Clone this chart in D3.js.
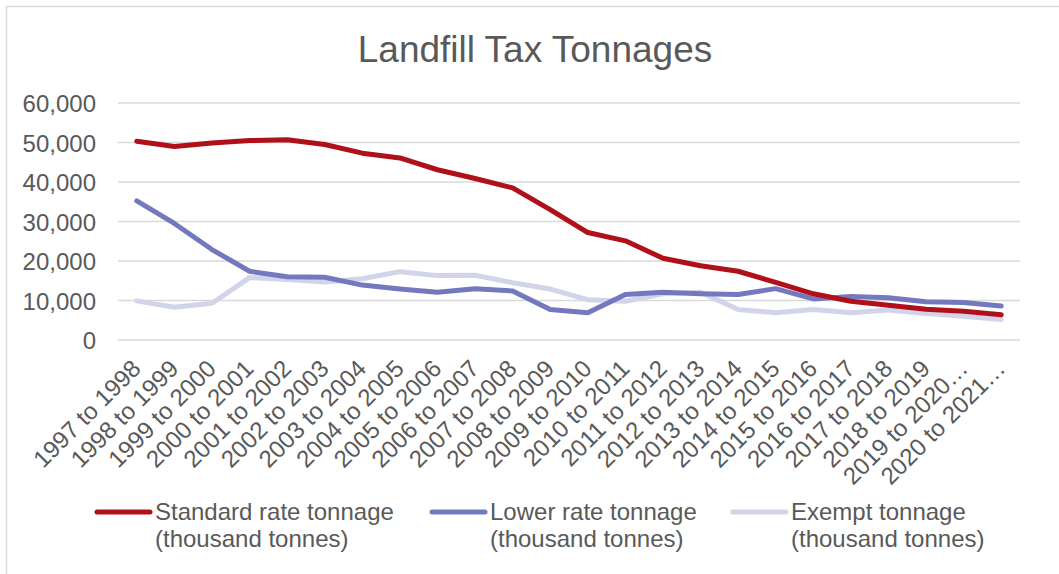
<!DOCTYPE html>
<html>
<head>
<meta charset="utf-8">
<script src="https://cdn.jsdelivr.net/npm/d3@7"></script>
<style>
  html, body { margin: 0; padding: 0; background: #fff; }
  svg { display: block; font-family: "Liberation Sans", Arial, sans-serif; }
</style>
</head>
<body>
<svg id="chart" width="1059" height="574"></svg>
<script>
const categories = ["1997 to 1998","1998 to 1999","1999 to 2000","2000 to 2001","2001 to 2002","2002 to 2003","2003 to 2004","2004 to 2005","2005 to 2006","2006 to 2007","2007 to 2008","2008 to 2009","2009 to 2010","2010 to 2011","2011 to 2012","2012 to 2013","2013 to 2014","2014 to 2015","2015 to 2016","2016 to 2017","2017 to 2018","2018 to 2019","2019 to 2020…","2020 to 2021…"];
const standardRate = [50300,49000,49900,50500,50700,49500,47300,46100,43100,40900,38500,33000,27200,25100,20700,18800,17400,14600,11700,9800,8800,7800,7300,6400];
const lowerRate = [35200,29500,22900,17400,16000,15900,13900,12900,12100,13000,12400,7700,6900,11500,12100,11700,11500,13000,10400,11000,10700,9700,9500,8600];
const exempt = [9900,8300,9300,15800,15300,14700,15500,17300,16300,16400,14500,12900,10200,9800,11700,12100,7700,6900,7700,6900,7600,6700,6000,5200];
const yTicks = [0,10000,20000,30000,40000,50000,60000];
const seriesNames = [["Standard rate tonnage","(thousand tonnes)"],["Lower rate tonnage","(thousand tonnes)"],["Exempt tonnage","(thousand tonnes)"]];
const seriesColors = ["#B01019","#7479BF","#D2D4EA"];

const svg = d3.select("#chart");
const textColor = "#595959";

// outer border
svg.append("rect").attr("x",6.5).attr("y",6.5).attr("width",1080).attr("height",600)
  .attr("fill","#fff").attr("stroke","#d9d9d9").attr("stroke-width",1.5);

// title
svg.append("text").attr("x",535).attr("y",62).attr("text-anchor","middle")
  .attr("font-size",37).attr("fill",textColor).text("Landfill Tax Tonnages");

const x = d3.scalePoint().domain(categories).range([118,1020]).padding(0.5);
const y = d3.scaleLinear().domain([0,60000]).range([340,103]);

// gridlines
svg.append("g").selectAll("line").data(yTicks).join("line")
  .attr("x1",118).attr("x2",1020)
  .attr("y1",d=>y(d)).attr("y2",d=>y(d))
  .attr("stroke","#d9d9d9").attr("stroke-width",1.5);

// y axis labels
const yAxis = d3.axisLeft(y).tickValues(yTicks).tickSize(0).tickPadding(0)
  .tickFormat(d3.format(",")); 
const yg = svg.append("g").attr("transform","translate(96,0)").call(yAxis);
yg.select(".domain").remove();
yg.selectAll("text").attr("font-size",24).attr("fill",textColor)
  .attr("font-family","Liberation Sans, Arial, sans-serif").attr("dy","0.36em");

// x axis labels
const xAxis = d3.axisBottom(x).tickSize(0).tickPadding(0);
const xg = svg.append("g").attr("transform","translate(0,340)").call(xAxis);
xg.select(".domain").remove();
xg.selectAll("text").attr("font-size",24).attr("fill",textColor)
  .attr("font-family","Liberation Sans, Arial, sans-serif")
  .attr("text-anchor","end")
  .attr("x",0).attr("y",0).attr("dy",0)
  .attr("transform","translate(5,30) rotate(-45)");

// lines
const allSeries = [standardRate, lowerRate, exempt];
const line = d3.line().x((d,i)=>x(categories[i])).y(d=>y(d));
[2,1,0].forEach(k=>{
  svg.append("path").datum(allSeries[k]).attr("d",line)
    .attr("fill","none").attr("stroke",seriesColors[k]).attr("stroke-width",5)
    .attr("stroke-linejoin","round").attr("stroke-linecap","round");
});

// legend
const legendX = [97,432,733];
seriesNames.forEach((nm,k)=>{
  const g = svg.append("g").attr("transform",`translate(${legendX[k]},0)`);
  g.append("line").attr("x1",0).attr("x2",53).attr("y1",512).attr("y2",512)
    .attr("stroke",seriesColors[k]).attr("stroke-width",5).attr("stroke-linecap","round");
  const t = g.append("text").attr("x",58).attr("y",520).attr("font-size",24).attr("fill",textColor);
  t.append("tspan").attr("x",58).attr("y",520).text(nm[0]);
  t.append("tspan").attr("x",58).attr("y",547).text(nm[1]);
});
</script>
</body>
</html>
